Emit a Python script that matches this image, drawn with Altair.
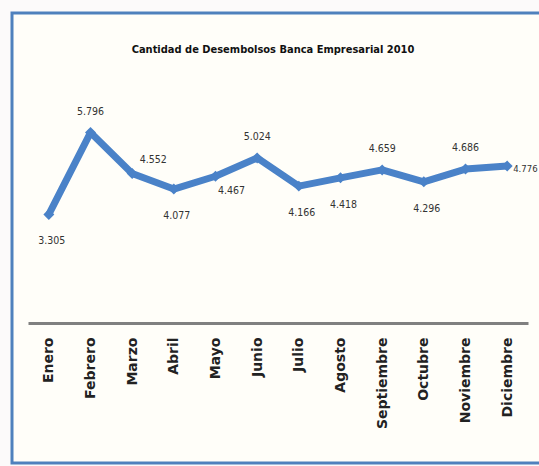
import altair as alt
import pandas as pd

months = ["Enero", "Febrero", "Marzo", "Abril", "Mayo", "Junio", "Julio",
          "Agosto", "Septiembre", "Octubre", "Noviembre", "Diciembre"]
values = [3305, 5796, 4552, 4077, 4467, 5024, 4166, 4418, 4659, 4296, 4686, 4776]
placement = ["below", "above", "upright", "below", "downright", "above",
             "below", "below", "above", "below", "above", "right"]
title_text = "Cantidad de Desembolsos Banca Empresarial 2010"

df = pd.DataFrame({"mes": months, "valor": values, "pos": placement})

BLUE = "#4A82C8"
LABEL_FONT = "Liberation Sans Narrow, DejaVu Sans Condensed, sans-serif"

base = alt.Chart(df).encode(
    x=alt.X("mes:N", sort=months,
            scale=alt.Scale(paddingInner=0, paddingOuter=0),
            axis=alt.Axis(title=None, labelAngle=-90, ticks=False,
                          labelFont="DejaVu Sans", labelFontWeight="bold",
                          labelFontSize=14, labelColor="#222222",
                          labelPadding=14, domainColor="#808080",
                          domainWidth=3, zindex=1)),
    y=alt.Y("valor:Q", scale=alt.Scale(domain=[0, 7000]), axis=None),
)

frame = alt.Chart(pd.DataFrame({"a": [0]})).mark_rect(
    fill="#FFFEF9", stroke="#4F81BD", strokeWidth=3
).encode(x=alt.value(-16), x2=alt.value(530), y=alt.value(-80), y2=alt.value(370))

title = alt.Chart(pd.DataFrame({"t": [title_text]})).mark_text(
    font=LABEL_FONT, fontSize=11, fontWeight="bold", color="#111111",
    align="center", baseline="middle"
).encode(text="t:N", x=alt.value(245), y=alt.value(-43))

line = base.mark_line(color=BLUE, strokeWidth=7, strokeJoin="round")
points = base.mark_point(shape="diamond", filled=True, size=120, color=BLUE, opacity=1)

lbl = base.transform_calculate(
    txt="replace(format(datum.valor, ','), ',', '.')"
)

def text_layer(pos, dx, dy, align="center", size=10.5):
    return lbl.transform_filter(alt.datum.pos == pos).mark_text(
        font=LABEL_FONT, fontSize=size, color="#333333", dx=dx, dy=dy,
        align=align, baseline="middle"
    ).encode(text="txt:N")

texts = [
    text_layer("below", 3, 27),
    text_layer("above", 0, -21),
    text_layer("upright", 21, -13),
    text_layer("downright", 16, 15),
    text_layer("right", 6, 3, "left", 9.5),
]

chart = alt.layer(frame, title, line, points, *texts).properties(
    width=500, height=230,
    autosize=alt.AutoSizeParams(type="none"),
    padding={"left": 28, "top": 93, "right": 11, "bottom": 143},
    background="#FCFAFA",
).configure_view(stroke=None)

chart.save("out.html", embed_options={"renderer": "svg", "actions": False})
